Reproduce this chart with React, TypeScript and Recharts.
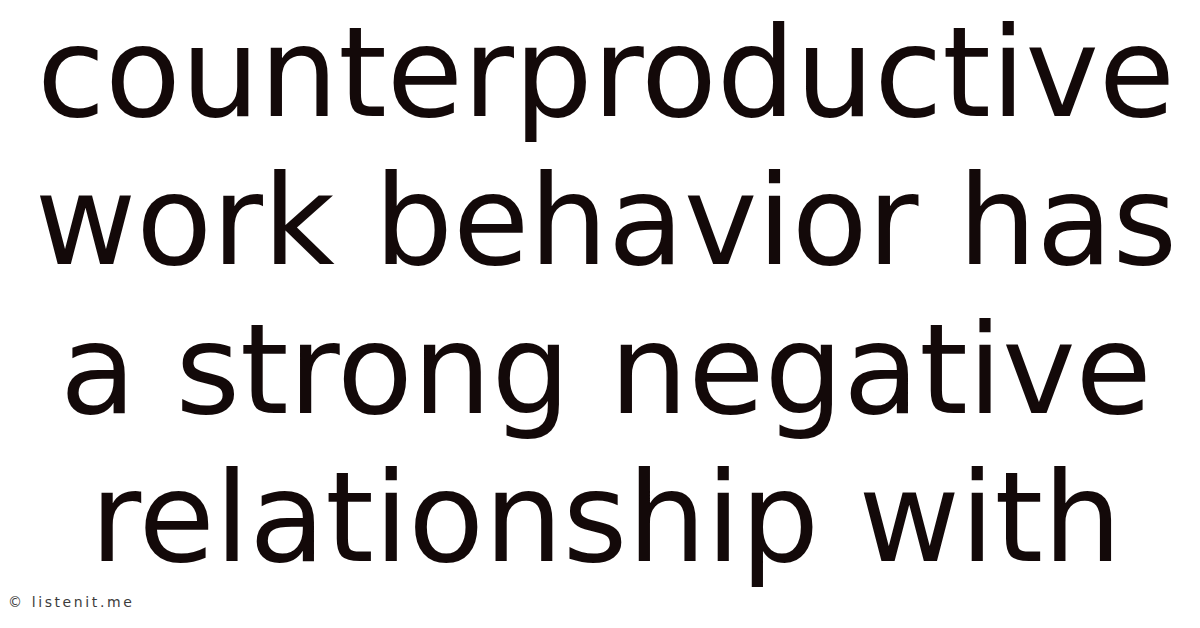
import { Surface, Text } from "recharts";

const LINES = [
  "counterproductive",
  "work behavior has",
  "a strong negative",
  "relationship with",
];
const WATERMARK = "© listenit.me";

const W = 1200;
const H = 628;
const FONT = "'DejaVu Sans', Verdana, sans-serif";

export default function App() {
  const lineGap = 148.3;
  return (
    <div style={{ position: "fixed", left: 0, top: 0, width: W, height: H, background: "#fff" }}>
      <Surface width={W} height={H}>
        <rect x={0} y={0} width={W} height={H} fill="#ffffff" />
        {LINES.map((line, i) => (
          <Text
            key={line}
            x={606}
            y={116 + i * lineGap}
            textAnchor="middle"
            verticalAnchor="end"
            fontFamily={FONT}
            fontSize={124}
            fill="#130909"
          >
            {line}
          </Text>
        ))}
        <Text
          x={8}
          y={607}
          textAnchor="start"
          verticalAnchor="end"
          fontFamily={FONT}
          fontSize={14}
          letterSpacing={2.6}
          fill="#3c3c3c"
        >
          {WATERMARK}
        </Text>
      </Surface>
    </div>
  );
}
